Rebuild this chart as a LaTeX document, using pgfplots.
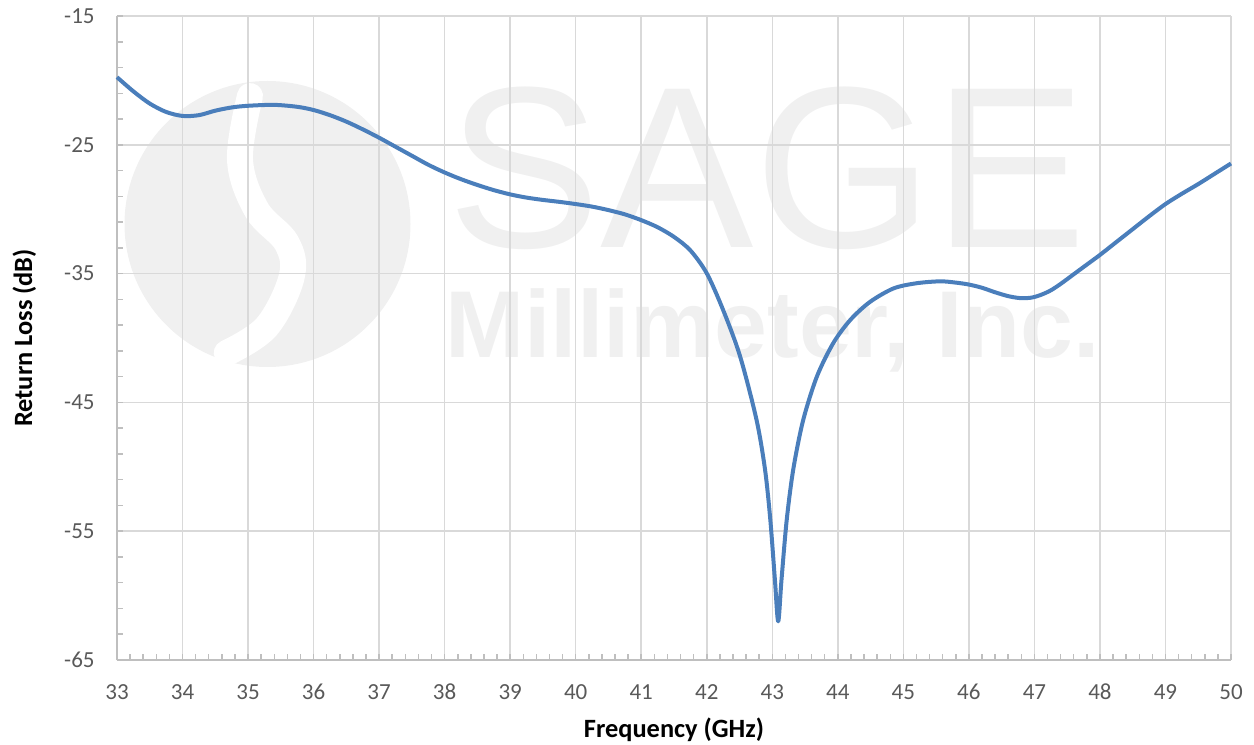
\documentclass[border=0pt]{standalone}
\usepackage{pgfplots}
\pgfplotsset{compat=1.18}
\usepackage{fontspec}
\setmainfont{Carlito}
\newfontfamily\wmfont{Liberation Sans}
\definecolor{gridc}{RGB}{217,217,217}
\definecolor{axc}{RGB}{191,191,191}
\definecolor{tickc}{RGB}{89,89,89}
\definecolor{wm}{RGB}{240,240,240}
\definecolor{curve}{RGB}{74,126,187}
\begin{document}
\begin{tikzpicture}
\useasboundingbox (-58.5bp,-42.5bp) rectangle (568.5bp,330bp);
% watermark (background)
\fill[wm] (75.25bp,218bp) circle (71.5bp);
\draw[white, line width=13bp, line cap=round] plot[smooth, tension=0.6] coordinates {(66.5bp,282bp) (61.5bp,250bp) (69.85bp,225bp) (84.85bp,208.5bp) (87.35bp,191.65bp) (74.85bp,166.65bp) (54.85bp,153.5bp)};
\node[anchor=base west, inner sep=0, text=wm] at (165bp,206bp) {\wmfont\fontsize{115bp}{115bp}\selectfont SAGE};
\node[anchor=base west, inner sep=0, text=wm] at (164bp,151bp) {\wmfont\bfseries\fontsize{47.5bp}{48bp}\selectfont Millimeter, Inc.};
\begin{axis}[
  scale only axis, width=557bp, height=322bp,
  at={(0,0)}, anchor=south west,
  xmin=33, xmax=50, ymin=-65, ymax=-15,
  axis lines*=left,
  axis line style={axc, line width=0.75bp},
  xtick={33,...,50}, minor x tick num=4,
  ytick={-65,-55,...,-15}, minor ytick={-63,-61,...,-17},
  tick align=inside, major tick length=3bp, minor tick length=3bp,
  tick style={axc, line width=0.75bp},
  grid=major, major grid style={gridc, line width=0.75bp},
  /pgf/number format/assume math mode=true,
  ticklabel style={font=\fontsize{11.5bp}{13bp}\selectfont, text=tickc, inner sep=0pt},
  xticklabel style={anchor=base, yshift=-19.5bp},
  yticklabel style={anchor=east, xshift=-11bp},
  xlabel={Frequency (GHz)},
  ylabel={Return Loss (dB)},
  label style={font=\bfseries\fontsize{13.2bp}{15bp}\selectfont, text=black},
  xlabel style={at={(axis description cs:0.5,-0.1211)}, anchor=base},
  ylabel style={at={(axis description cs:-0.0763,0.5)}, anchor=base, rotate=0},
  clip=false,
]
\addplot[curve, line width=2bp, smooth, tension=0.5, line join=round] table {
x y
33.0 -19.75
33.25 -20.85
33.5 -21.8
33.75 -22.45
34.0 -22.76
34.25 -22.7
34.5 -22.35
34.75 -22.1
35.0 -21.97
35.4 -21.9
35.75 -22.05
36.0 -22.3
36.25 -22.7
36.5 -23.2
36.75 -23.8
37.0 -24.45
37.25 -25.15
37.5 -25.85
37.75 -26.55
38.0 -27.15
38.25 -27.67
38.5 -28.12
38.75 -28.52
39.0 -28.85
39.25 -29.1
39.5 -29.28
39.75 -29.43
40.0 -29.6
40.25 -29.8
40.5 -30.07
40.75 -30.4
41.0 -30.85
41.25 -31.4
41.5 -32.15
41.75 -33.2
42.0 -34.98
42.25 -37.83
42.51 -41.45
42.76 -46.37
42.89 -50.25
42.97 -54.13
43.04 -58.79
43.09 -62.0
43.14 -58.8
43.22 -54.13
43.32 -50.2
43.47 -46.4
43.68 -43.0
43.93 -40.4
44.19 -38.6
44.49 -37.2
44.85 -36.15
45.2 -35.75
45.56 -35.6
45.8 -35.7
46.0 -35.85
46.2 -36.1
46.4 -36.45
46.6 -36.75
46.78 -36.9
46.95 -36.87
47.1 -36.65
47.25 -36.3
47.4 -35.8
47.6 -35.05
47.8 -34.3
48.0 -33.55
48.25 -32.55
48.5 -31.55
48.75 -30.55
49.0 -29.6
49.25 -28.8
49.5 -28.05
49.75 -27.25
50.0 -26.45
};
\end{axis}
\end{tikzpicture}
\end{document}
